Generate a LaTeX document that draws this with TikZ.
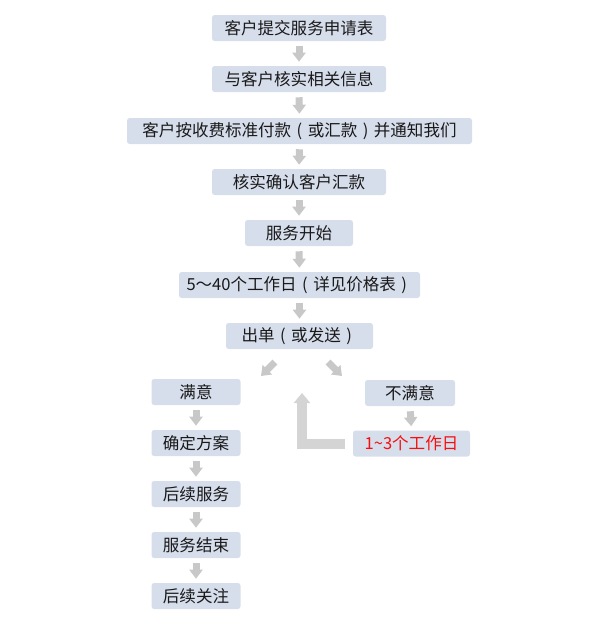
\documentclass[tikz,border=0pt]{standalone}
\usepackage{fontspec}
\setmainfont{Noto Sans CJK SC}
\usetikzlibrary{arrows.meta}
\definecolor{boxc}{RGB}{214,221,235}
\definecolor{txtc}{RGB}{25,25,25}
\definecolor{arrc}{RGB}{200,200,200}
\definecolor{larrc}{RGB}{212,212,212}
\definecolor{redc}{RGB}{245,15,15}
\newcommand\lpar{\makebox[1em][c]{(}}
\newcommand\rpar{\makebox[1em][c]{)}}
\begin{document}
\begin{tikzpicture}[x=0.75pt,y=-0.75pt,
  box/.style={fill=boxc,rounded corners=2pt,minimum height={26*0.75pt},inner sep=0pt,text=txtc,font=\fontsize{12.4pt}{14pt}\selectfont},
  garrow/.style={draw=arrc,line width={7*0.75pt},-{Triangle[length={9*0.75pt},width={13*0.75pt}]},shorten <={5*0.75pt},shorten >={4*0.75pt}},
  larrow/.style={draw=larrc,line width={10*0.75pt},line join=miter,-{Triangle[length={10*0.75pt},width={16*0.75pt}]}}
]
\useasboundingbox (0,0) rectangle (600,632);
\node[box,minimum width={174*0.75pt}] (n1) at (299,28) {客户提交服务申请表};
\node[box,minimum width={174*0.75pt}] (n2) at (299,79) {与客户核实相关信息};
\node[box,minimum width={345*0.75pt}] (n3) at (299.5,131) {客户按收费标准付款\lpar 或汇款\rpar 并通知我们};
\node[box,minimum width={174*0.75pt}] (n4) at (299,182) {核实确认客户汇款};
\node[box,minimum width={108*0.75pt}] (n5) at (299,233) {服务开始};
\node[box,minimum width={241*0.75pt}] (n6) at (299.5,285) {5～40个工作日\lpar 详见价格表\rpar};
\node[box,minimum width={147*0.75pt}] (n7) at (299.5,336) {出单\lpar 或发送\rpar};
\node[box,minimum width={89*0.75pt}] (l1) at (196,392) {满意};
\node[box,minimum width={89*0.75pt}] (l2) at (196,443) {确定方案};
\node[box,minimum width={89*0.75pt}] (l3) at (196,494) {后续服务};
\node[box,minimum width={89*0.75pt}] (l4) at (196,545) {服务结束};
\node[box,minimum width={89*0.75pt}] (l5) at (196,596) {后续关注};
\node[box,minimum width={90*0.75pt}] (r1) at (410,393) {不满意};
\node[box,minimum width={117*0.75pt},text=redc] (r2) at (411.5,443.5) {1\textasciitilde 3个工作日};
\foreach \a/\b in {n1/n2,n2/n3,n3/n4,n4/n5,n5/n6,n6/n7,l1/l2,l2/l3,l3/l4,l4/l5,r1/r2}
  \draw[garrow] (\a.south) -- (\b.north);
\coordinate (dla) at (275,362);
\coordinate (dlb) at (261,376);
\coordinate (dra) at (328,362);
\coordinate (drb) at (342,376);
\draw[garrow,shorten <=0pt,shorten >=0pt] (dla) -- (dlb);
\draw[garrow,shorten <=0pt,shorten >=0pt] (dra) -- (drb);
\coordinate (ltop) at (302,393);
\draw[larrow,shorten <={8*0.75pt}] (r2.west) -| (ltop);
\end{tikzpicture}
\end{document}
